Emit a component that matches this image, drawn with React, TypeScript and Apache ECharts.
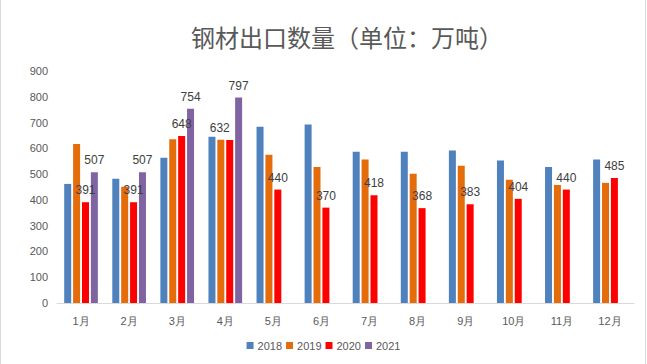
import React, { useEffect, useRef } from "react";
import * as echarts from "echarts";

const categories = ["1月", "2月", "3月", "4月", "5月", "6月", "7月", "8月", "9月", "10月", "11月", "12月"];
const s2018 = [462, 482, 563, 645, 684, 692, 587, 587, 592, 553, 528, 557];
const s2019 = [617, 451, 635, 633, 575, 528, 557, 501, 532, 478, 458, 466];
const s2020 = [391, 391, 648, 632, 440, 370, 418, 368, 383, 404, 440, 485];
const s2021 = [507, 507, 754, 797, null, null, null, null, null, null, null, null];
const yTicks = [0, 100, 200, 300, 400, 500, 600, 700, 800, 900];

export default function App() {
  const ref = useRef<HTMLDivElement>(null);
  useEffect(() => {
    const chart = echarts.init(ref.current!, null, { renderer: "svg" });
    const labelStyle = {
      show: true,
      position: "top" as const,
      distance: 6,
      color: "#404040",
      fontSize: 12,
      fontFamily: "Liberation Sans, Arial, sans-serif",
    };
    // April's 2020 label sits a little to the left in the original
    const data2020 = s2020.map((v, i) =>
      i === 3 ? { value: v, label: { offset: [-10, 0] } } : v
    );
    chart.setOption({
      animation: false,
      backgroundColor: "#ffffff",
      title: {
        text: "钢材出口数量（单位：万吨）",
        left: 186,
        top: 19,
        textStyle: {
          fontSize: 24,
          fontWeight: "normal",
          color: "#595959",
          fontFamily: "Noto Sans CJK SC",
        },
      },
      grid: { left: 57, right: 13, top: 71, bottom: 61, containLabel: false },
      legend: {
        bottom: 8,
        left: "center",
        itemWidth: 7,
        itemHeight: 7,
        itemGap: 4,
        icon: "rect",
        textStyle: { color: "#595959", fontSize: 11, padding: [0, 0, 0, -1] },
        data: ["2018", "2019", "2020", "2021"],
      },
      xAxis: {
        type: "category",
        data: categories,
        axisLine: { lineStyle: { color: "#d9d9d9", width: 1 } },
        axisTick: { show: false },
        axisLabel: { color: "#595959", fontSize: 11, margin: 12 },
      },
      yAxis: {
        type: "value",
        min: yTicks[0],
        max: yTicks[yTicks.length - 1],
        interval: 100,
        splitLine: { show: false },
        axisLine: { show: false },
        axisTick: { show: false },
        axisLabel: { color: "#595959", fontSize: 11, margin: 9 },
      },
      graphic: [
        { type: "line", shape: { x1: 0.5, y1: 0, x2: 0.5, y2: 364 }, style: { stroke: "#d9d9d9", lineWidth: 1 } },
        { type: "line", shape: { x1: 645.5, y1: 0, x2: 645.5, y2: 364 }, style: { stroke: "#d9d9d9", lineWidth: 1 } },
      ],
      series: [
        { name: "2018", type: "bar", data: s2018, barWidth: 7, barGap: "27%", itemStyle: { color: "#4F81BD" } },
        { name: "2019", type: "bar", data: s2019, barWidth: 7, barGap: "27%", itemStyle: { color: "#E46C0A" } },
        {
          name: "2020",
          type: "bar",
          data: data2020,
          barWidth: 7,
          barGap: "27%",
          itemStyle: { color: "#FF0000" },
          label: labelStyle,
        },
        {
          name: "2021",
          type: "bar",
          data: s2021,
          barWidth: 7,
          barGap: "27%",
          itemStyle: { color: "#8064A2" },
          label: labelStyle,
        },
      ],
    });
    return () => chart.dispose();
  }, []);
  return <div ref={ref} style={{ width: 647, height: 364, position: "absolute", left: 0, top: 0 }} />;
}
